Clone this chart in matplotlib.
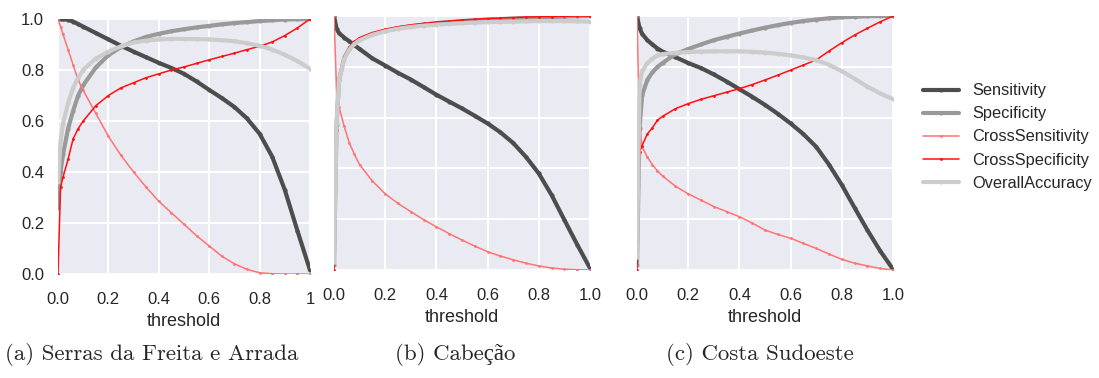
import matplotlib
matplotlib.use("Agg")
import matplotlib.pyplot as plt
import seaborn as sns

# threshold grid the curves were read at
THRESH = [0.0, 0.01, 0.02, 0.04, 0.06, 0.08, 0.1, 0.15, 0.2, 0.25, 0.3, 0.35, 0.4,
          0.45, 0.5, 0.55, 0.6, 0.65, 0.7, 0.75, 0.8, 0.85, 0.9, 0.95, 1.0]

# (a) Serras da Freita e Arrada
SENS_A = [1.0, 1.0, 0.999, 0.997, 0.99, 0.98, 0.97, 0.945, 0.92, 0.895, 0.872, 0.85, 0.828,
          0.808, 0.785, 0.755, 0.722, 0.69, 0.655, 0.61, 0.55, 0.46, 0.33, 0.17, 0.015]
SPEC_A = [0.26, 0.40, 0.47, 0.57, 0.64, 0.70, 0.74, 0.81, 0.858, 0.89, 0.912, 0.93, 0.942,
          0.952, 0.96, 0.967, 0.973, 0.979, 0.984, 0.988, 0.992, 0.995, 0.998, 0.999, 1.0]
XSENS_A = [1.0, 0.97, 0.94, 0.88, 0.82, 0.76, 0.72, 0.63, 0.54, 0.465, 0.40, 0.34, 0.285,
           0.24, 0.195, 0.15, 0.11, 0.07, 0.04, 0.018, 0.005, 0.001, 0.0, 0.0, 0.0]
XSPEC_A = [0.0, 0.34, 0.38, 0.45, 0.53, 0.57, 0.60, 0.66, 0.70, 0.73, 0.75, 0.77, 0.785,
           0.80, 0.812, 0.826, 0.84, 0.853, 0.866, 0.88, 0.893, 0.91, 0.935, 0.965, 1.0]
ACC_A = [0.36, 0.52, 0.59, 0.67, 0.73, 0.77, 0.80, 0.845, 0.872, 0.893, 0.908, 0.915, 0.92,
         0.922, 0.922, 0.921, 0.92, 0.917, 0.913, 0.905, 0.895, 0.88, 0.86, 0.835, 0.805]

# (b) Cabeção
SENS_B = [1.0, 0.95, 0.932, 0.915, 0.90, 0.885, 0.87, 0.833, 0.805, 0.776, 0.75, 0.72, 0.69,
          0.663, 0.636, 0.607, 0.577, 0.542, 0.50, 0.445, 0.38, 0.295, 0.197, 0.10, 0.007]
SPEC_B = [0.02, 0.57, 0.75, 0.835, 0.872, 0.893, 0.908, 0.928, 0.942, 0.952, 0.96, 0.966, 0.972,
          0.976, 0.98, 0.983, 0.986, 0.988, 0.99, 0.992, 0.994, 0.996, 0.998, 0.999, 1.0]
XSENS_B = [1.0, 0.71, 0.64, 0.565, 0.50, 0.455, 0.415, 0.35, 0.30, 0.262, 0.23, 0.198, 0.17,
           0.143, 0.118, 0.094, 0.072, 0.055, 0.04, 0.027, 0.016, 0.008, 0.003, 0.001, 0.0]
XSPEC_B = [0.0, 0.55, 0.74, 0.84, 0.878, 0.90, 0.915, 0.935, 0.948, 0.958, 0.965, 0.971, 0.976,
           0.98, 0.984, 0.987, 0.99, 0.992, 0.994, 0.996, 0.997, 0.998, 0.999, 1.0, 1.0]
ACC_B = [0.03, 0.58, 0.75, 0.83, 0.868, 0.89, 0.905, 0.926, 0.94, 0.95, 0.957, 0.962, 0.966,
         0.969, 0.972, 0.974, 0.976, 0.977, 0.978, 0.979, 0.98, 0.98, 0.98, 0.979, 0.978]

# (c) Costa Sudoeste
SENS_C = [1.0, 0.952, 0.93, 0.905, 0.888, 0.872, 0.86, 0.838, 0.815, 0.795, 0.77, 0.742, 0.712,
          0.682, 0.65, 0.615, 0.577, 0.535, 0.485, 0.415, 0.335, 0.245, 0.157, 0.075, 0.003]
SPEC_C = [0.02, 0.56, 0.688, 0.748, 0.778, 0.80, 0.815, 0.85, 0.87, 0.888, 0.905, 0.918, 0.931,
          0.943, 0.954, 0.964, 0.973, 0.98, 0.986, 0.991, 0.995, 0.997, 0.999, 1.0, 1.0]
XSENS_C = [1.0, 0.55, 0.485, 0.445, 0.415, 0.39, 0.37, 0.33, 0.30, 0.275, 0.25, 0.23, 0.21,
           0.185, 0.157, 0.14, 0.125, 0.105, 0.085, 0.063, 0.042, 0.027, 0.016, 0.006, 0.0]
XSPEC_C = [0.0, 0.466, 0.49, 0.535, 0.56, 0.59, 0.605, 0.635, 0.655, 0.672, 0.686, 0.70, 0.714,
           0.73, 0.748, 0.767, 0.787, 0.807, 0.827, 0.862, 0.895, 0.925, 0.952, 0.977, 1.0]
ACC_C = [0.05, 0.73, 0.782, 0.815, 0.832, 0.845, 0.85, 0.855, 0.858, 0.86, 0.861, 0.861, 0.861,
         0.859, 0.856, 0.851, 0.845, 0.837, 0.826, 0.808, 0.783, 0.753, 0.722, 0.695, 0.673]

LABELS = ["Sensitivity", "Specificity", "CrossSensitivity", "CrossSpecificity", "OverallAccuracy"]
CAPTIONS = ["(a) Serras da Freita e Arrada", "(b) Cabeção", "(c) Costa Sudoeste"]

PANELS = [
    [SENS_A, SPEC_A, XSENS_A, XSPEC_A, ACC_A],
    [SENS_B, SPEC_B, XSENS_B, XSPEC_B, ACC_B],
    [SENS_C, SPEC_C, XSENS_C, XSPEC_C, ACC_C],
]

STYLES = [
    dict(color="#4d4d4d", lw=3.0, markersize=4),
    dict(color="#999999", lw=3.0, markersize=4),
    dict(color="#ff7373", lw=1.1, markersize=2.0),
    dict(color="#ff1010", lw=1.1, markersize=2.0),
    dict(color="#cccccc", lw=3.0, markersize=4),
]

sns.set_style("darkgrid")
plt.rcParams["font.family"] = ["Liberation Sans", "DejaVu Sans"]
plt.rcParams["text.color"] = "#262626"
plt.rcParams["xtick.color"] = "#262626"
plt.rcParams["ytick.color"] = "#262626"

fig = plt.figure(figsize=(10.99, 3.78), dpi=100)
rects = [
    (58 / 1099, 104 / 378, 252 / 1099, 255 / 378),
    (334 / 1099, 108 / 378, 256 / 1099, 254 / 378),
    (637 / 1099, 108 / 378, 256 / 1099, 254 / 378),
]
caption_x = [152 / 1099, 455 / 1099, 760 / 1099]

for i, (rect, series) in enumerate(zip(rects, PANELS)):
    ax = fig.add_axes(rect)
    for vals, label, st in zip(series, LABELS, STYLES):
        ax.plot(THRESH, vals, marker=".", label=label, color=st["color"],
                lw=st["lw"], markersize=st["markersize"])
    ax.set_xlim(0, 1)
    ax.set_ylim(0, 1)
    ax.set_xticks([0, 0.2, 0.4, 0.6, 0.8, 1.0])
    ax.set_yticks([0, 0.2, 0.4, 0.6, 0.8, 1.0])
    if i == 0:
        ax.set_xticklabels(["0.0", "0.2", "0.4", "0.6", "0.8", "1"])
        ax.set_yticklabels(["0.0", "0.2", "0.4", "0.6", "0.8", "1.0"])
    else:
        ax.set_xticklabels(["0.0", "0.2", "0.4", "0.6", "0.8", "1.0"])
        ax.set_yticklabels([])
    ax.tick_params(axis="x", length=0, pad=13, labelsize=12)
    ax.tick_params(axis="y", length=0, pad=10, labelsize=12)
    ax.grid(color="white", lw=1.4)
    for sp in ax.spines.values():
        sp.set_visible(False)
    ax.set_xlabel("threshold", fontsize=13, labelpad=4)
    fig.text(caption_x[i], 1 - 355 / 378, CAPTIONS[i], ha="center", va="center",
             fontsize=16.5, family=["cmr10", "Liberation Serif"])
    if i == 2:
        handles, labels = ax.get_legend_handles_labels()

fig.legend(handles, labels, loc="center left", bbox_to_anchor=(923 / 1099, 1 - 137 / 378),
           frameon=False, fontsize=11.8, borderpad=0, borderaxespad=0,
           handlelength=2.2, handletextpad=0.8, labelspacing=0.49)

fig.savefig("out.png", dpi=100)
